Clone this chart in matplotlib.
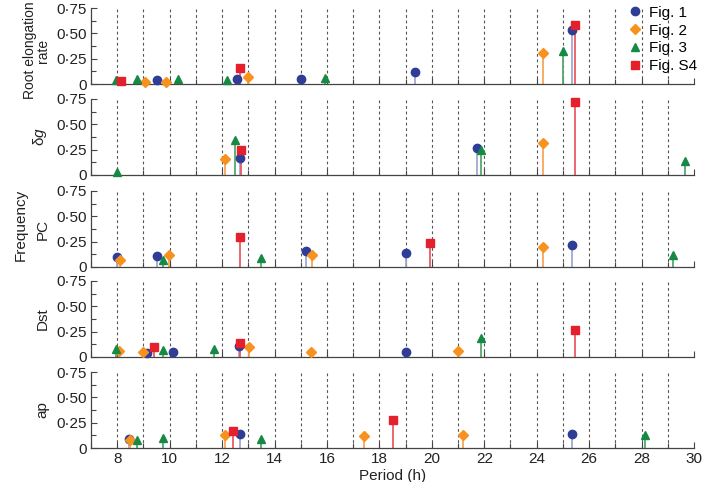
import numpy as np
import matplotlib
matplotlib.use('Agg')
import matplotlib.pyplot as plt
from matplotlib.ticker import MultipleLocator, FuncFormatter
from matplotlib.lines import Line2D

plt.rcParams['font.family'] = ['Liberation Sans', 'DejaVu Sans']
plt.rcParams['mathtext.fontset'] = 'custom'
plt.rcParams['mathtext.rm'] = 'Liberation Sans'
plt.rcParams['mathtext.it'] = 'Liberation Sans:italic'

# (period in h, frequency)
root_fig1 = [(9.5, 0.04), (12.55, 0.05), (15.0, 0.05), (19.35, 0.12), (25.35, 0.53)]
root_fig2 = [(9.07, 0.02), (9.86, 0.02), (13.0, 0.07), (24.23, 0.31)]
root_fig3 = [(7.97, 0.04), (8.74, 0.05), (10.3, 0.05), (12.2, 0.04), (15.93, 0.06), (25.0, 0.33)]
root_figs4 = [(8.13, 0.03), (12.7, 0.16), (25.45, 0.58)]

dg_fig1 = [(12.67, 0.17), (21.71, 0.27)]
dg_fig2 = [(12.1, 0.16), (24.23, 0.32)]
dg_fig3 = [(8.0, 0.03), (12.5, 0.35), (21.88, 0.25), (29.67, 0.14)]
dg_figs4 = [(12.72, 0.25), (25.45, 0.72)]

pc_fig1 = [(8.0, 0.10), (9.5, 0.11), (15.21, 0.16), (19.03, 0.14), (25.35, 0.22)]
pc_fig2 = [(8.09, 0.07), (9.98, 0.12), (15.42, 0.12), (24.23, 0.20)]
pc_fig3 = [(9.73, 0.07), (13.47, 0.09), (29.2, 0.12)]
pc_figs4 = [(12.7, 0.30), (19.92, 0.24)]

dst_fig1 = [(9.13, 0.04), (10.12, 0.05), (12.66, 0.11), (19.01, 0.05)]
dst_fig2 = [(8.08, 0.06), (9.0, 0.05), (13.02, 0.10), (15.39, 0.05), (20.99, 0.06)]
dst_fig3 = [(7.95, 0.08), (9.73, 0.07), (11.69, 0.08), (21.89, 0.19)]
dst_figs4 = [(9.42, 0.10), (12.7, 0.14), (25.45, 0.27)]

ap_fig1 = [(8.45, 0.09), (12.67, 0.14), (25.35, 0.14)]
ap_fig2 = [(8.47, 0.08), (12.1, 0.13), (17.43, 0.12), (21.2, 0.13)]
ap_fig3 = [(8.76, 0.08), (9.73, 0.10), (13.47, 0.09), (28.15, 0.13)]
ap_figs4 = [(12.4, 0.17), (18.51, 0.28)]

panel_labels = ['Root elongation\nrate', r'δ$\mathit{g}$', 'PC', 'Dst', 'ap']
series_names = ['Fig. 1', 'Fig. 2', 'Fig. 3', 'Fig. S4']
panels = [
    [root_fig1, root_fig2, root_fig3, root_figs4],
    [dg_fig1, dg_fig2, dg_fig3, dg_figs4],
    [pc_fig1, pc_fig2, pc_fig3, pc_figs4],
    [dst_fig1, dst_fig2, dst_fig3, dst_figs4],
    [ap_fig1, ap_fig2, ap_fig3, ap_figs4],
]

# marker colour, stem colour, marker shape, size
styles = [
    ('#2e3d96', '#a3a9cf', 'o', 6.0),
    ('#f7921e', '#f7a65a', 'D', 5.0),
    ('#168a45', '#55a96f', '^', 6.2),
    ('#e3202b', '#ea5a62', 's', 5.2),
]

fig = plt.figure(figsize=(7.02, 4.82), dpi=100)

tops_px = [8, 99, 191, 281, 372]
h_px = 76
left, width = 91 / 702, 603 / 702
fs = 11

def fmt(v, pos):
    if abs(v) < 1e-9:
        return '0'
    return ('%.2f' % v).replace('.', '\u00b7')

axes = []
for i, (label, data) in enumerate(zip(panel_labels, panels)):
    bottom = 1 - (tops_px[i] + h_px) / 482
    ax = fig.add_axes([left, bottom, width, h_px / 482])
    axes.append(ax)

    for hr in range(8, 30):
        ax.plot([hr, hr], [0, 0.75], color='#555555', lw=0.8, ls=(0, (2.5, 2.5)), zorder=1)

    for (mc, sc, mk, ms), pts in zip(styles, data):
        xs = [p[0] for p in pts]
        ys = [p[1] for p in pts]
        ax.vlines(xs, 0, ys, colors=sc, lw=1.3, zorder=2)
        ax.plot(xs, ys, ls='none', marker=mk, color=mc, ms=ms, mec=mc, zorder=3, clip_on=False)

    ax.set_xlim(7, 30)
    ax.set_ylim(0, 0.75)
    ax.spines['top'].set_visible(False)
    ax.spines['right'].set_visible(False)
    for s in ['left', 'bottom']:
        ax.spines[s].set_color('#444444')
        ax.spines[s].set_linewidth(0.9)
    ax.xaxis.set_major_locator(MultipleLocator(2))
    ax.xaxis.set_minor_locator(MultipleLocator(1))
    ax.yaxis.set_major_locator(MultipleLocator(0.25))
    ax.yaxis.set_minor_locator(MultipleLocator(0.125))
    ax.yaxis.set_major_formatter(FuncFormatter(fmt))
    ax.tick_params(which='both', direction='in', colors='#444444', labelcolor='#222222', labelsize=fs)
    ax.tick_params(which='major', length=4, width=0.8, pad=3)
    ax.tick_params(which='minor', length=3.5, width=0.8)
    lab_fs = 10 if i == 0 else fs
    ax.set_ylabel(label, fontsize=lab_fs, color='#222222', labelpad=5, linespacing=0.95)
    if i < 4:
        ax.tick_params(axis='x', labelbottom=False)

axes[0].yaxis.set_label_coords(-0.068, 0.44)

axes[-1].set_xlabel('Period (h)', fontsize=fs, color='#222222', va='top')
axes[-1].xaxis.set_label_coords(0.5, -0.27)

handles = [Line2D([], [], ls='none', marker=mk, color=mc, ms=ms) for (mc, sc, mk, ms) in styles]
axes[0].legend(handles, series_names, loc='upper right', bbox_to_anchor=(1.015, 1.11),
               frameon=False, fontsize=fs, handletextpad=0.3, labelspacing=0.25,
               handlelength=1.2, borderaxespad=0)

fig.text(0.03, 0.533, 'Frequency', rotation=90, ha='center', va='center', fontsize=fs, color='#222222')

fig.savefig('out.png', dpi=100)
